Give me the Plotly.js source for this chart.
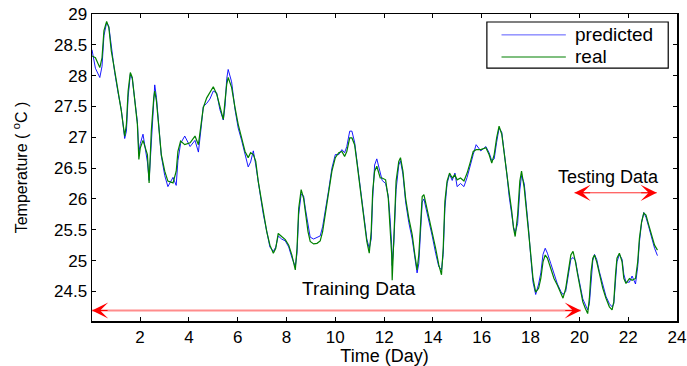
<!DOCTYPE html>
<html>
<head>
<meta charset="utf-8">
<script src="https://cdn.plot.ly/plotly-3.0.1.min.js"></script>
<style>html,body{margin:0;padding:0;background:#fff;}#chart{width:687px;height:366px;}</style>
</head>
<body>
<div id="chart"></div>
<script>
var days = [0.03,0.17,0.35,0.44,0.52,0.63,0.72,0.82,0.96,1.10,1.23,1.37,1.44,1.51,1.60,1.68,1.78,1.89,1.95,2.01,2.12,2.30,2.37,2.46,2.56,2.60,2.67,2.78,2.87,3.01,3.14,3.35,3.48,3.55,3.66,3.83,4.05,4.25,4.39,4.50,4.59,4.73,4.86,5.00,5.14,5.27,5.41,5.48,5.55,5.61,5.75,5.89,6.02,6.16,6.30,6.43,6.53,6.64,6.74,6.84,6.95,7.05,7.19,7.32,7.46,7.56,7.66,7.80,7.95,8.09,8.22,8.36,8.43,8.50,8.60,8.70,8.77,8.88,8.97,9.11,9.25,9.38,9.48,9.59,9.73,9.86,10.00,10.14,10.27,10.38,10.47,10.59,10.68,10.79,10.88,11.02,11.16,11.29,11.39,11.47,11.53,11.61,11.70,11.84,11.92,12.06,12.17,12.24,12.31,12.33,12.40,12.49,12.60,12.67,12.77,12.88,13.01,13.15,13.26,13.35,13.42,13.49,13.56,13.63,13.72,13.83,13.97,14.11,14.24,14.35,14.42,14.49,14.58,14.68,14.79,14.90,14.99,15.13,15.27,15.40,15.54,15.65,15.77,15.96,16.17,16.30,16.41,16.51,16.61,16.71,16.82,16.92,17.03,17.12,17.23,17.30,17.37,17.47,17.56,17.63,17.74,17.83,17.92,18.01,18.10,18.21,18.33,18.42,18.51,18.60,18.69,18.83,18.96,19.10,19.24,19.33,19.44,19.55,19.65,19.74,19.84,19.93,20.03,20.14,20.25,20.34,20.41,20.48,20.55,20.62,20.71,20.82,20.96,21.09,21.23,21.34,21.41,21.48,21.54,21.64,21.75,21.82,21.91,22.05,22.16,22.30,22.39,22.46,22.55,22.64,22.73,22.84,22.95,23.08,23.20];

var real = [28.32,28.29,28.13,28.29,28.73,28.88,28.78,28.40,28.08,27.75,27.43,27.02,27.21,27.75,28.05,27.97,27.64,27.21,26.64,26.83,26.95,26.72,26.26,27.10,27.64,27.75,27.59,27.10,26.72,26.45,26.29,26.26,26.45,26.77,26.94,26.88,26.91,27.02,26.88,27.21,27.48,27.64,27.73,27.82,27.70,27.48,27.29,27.59,27.86,27.97,27.81,27.48,27.21,26.99,26.77,26.67,26.75,26.72,26.61,26.29,26.01,25.80,25.47,25.25,25.12,25.20,25.44,25.39,25.34,25.25,25.09,24.85,25.20,25.85,26.15,26.01,25.80,25.47,25.31,25.27,25.28,25.32,25.47,25.74,26.12,26.45,26.67,26.75,26.77,26.69,26.77,26.99,26.99,26.88,26.61,26.18,25.74,25.31,25.12,25.47,26.12,26.45,26.53,26.34,26.34,26.31,26.01,25.63,25.09,24.68,25.47,26.29,26.61,26.67,26.45,26.01,25.69,25.42,25.09,24.85,25.09,25.69,26.04,26.07,25.91,25.74,25.47,25.20,24.93,24.77,25.20,25.96,26.29,26.42,26.34,26.39,26.31,26.34,26.29,26.42,26.61,26.77,26.80,26.80,26.83,26.72,26.58,26.72,26.99,27.18,27.05,26.72,26.45,26.12,25.80,25.53,25.39,25.74,26.29,26.45,26.18,25.85,25.47,25.09,24.71,24.49,24.55,24.71,24.98,25.09,25.04,24.87,24.71,24.60,24.47,24.39,24.55,24.87,25.09,25.15,24.98,24.77,24.55,24.33,24.22,24.14,24.39,24.82,25.04,25.09,24.98,24.77,24.55,24.39,24.25,24.20,24.33,24.77,25.04,25.12,24.98,24.71,24.63,24.71,24.68,24.71,24.98,25.36,25.63,25.77,25.74,25.58,25.42,25.25,25.17];

var predicted = [28.42,28.12,27.97,28.15,28.65,28.86,28.80,28.45,28.05,27.72,27.45,26.98,27.10,27.65,28.02,27.95,27.60,27.25,26.75,26.90,27.05,26.60,26.30,26.95,27.60,27.85,27.65,27.15,26.70,26.38,26.20,26.35,26.22,26.62,26.90,27.02,26.85,26.95,26.76,27.15,27.50,27.55,27.62,27.75,27.72,27.45,27.28,27.50,27.95,28.10,27.90,27.45,27.15,26.95,26.72,26.52,26.60,26.78,26.55,26.25,26.00,25.75,25.45,25.22,25.15,25.22,25.40,25.35,25.32,25.22,25.05,24.90,25.12,25.75,26.08,26.05,25.85,25.55,25.38,25.35,25.38,25.40,25.55,25.80,26.15,26.50,26.72,26.72,26.80,26.75,26.85,27.10,27.10,26.92,26.65,26.20,25.75,25.35,25.20,25.35,26.00,26.55,26.65,26.45,26.30,26.25,26.05,25.70,25.25,24.92,25.30,26.15,26.55,26.62,26.40,25.95,25.62,25.35,25.00,24.80,24.95,25.55,25.95,26.00,25.85,25.65,25.40,25.12,24.90,24.85,25.10,25.85,26.25,26.40,26.30,26.42,26.20,26.25,26.20,26.35,26.58,26.72,26.88,26.78,26.85,26.75,26.62,26.65,26.92,27.15,27.08,26.78,26.40,26.05,25.75,25.55,25.45,25.60,26.15,26.38,26.25,25.90,25.50,25.05,24.65,24.45,24.62,24.80,25.10,25.20,25.12,24.95,24.78,24.62,24.50,24.45,24.50,24.80,25.02,25.05,25.00,24.80,24.60,24.38,24.28,24.20,24.30,24.70,25.00,25.10,25.02,24.82,24.60,24.42,24.30,24.25,24.30,24.65,24.98,25.10,25.02,24.78,24.65,24.65,24.75,24.62,24.90,25.30,25.62,25.78,25.70,25.55,25.38,25.20,25.08];

var xTicks = [2,4,6,8,10,12,14,16,18,20,22,24];
var yTicks = [24.5,25,25.5,26,26.5,27,27.5,28,28.5,29];
var yTickLabels = ['24.5','25','25.5','26','26.5','27','27.5','28','28.5','29'];
var seriesNames = ['predicted','real'];
var seriesColors = ['#0000ff', '#008000'];
var legendColors = ['#5a5aff', '#55aa55'];
var trainingLabel = 'Training Data';
var testingLabel = 'Testing Data';
var trainSpan = [0.03, 20.06];
var testSpan = [19.8, 23.17];

var font = 'Liberation Sans, Arial, sans-serif';

var traces = [
  {x: days, y: predicted, type: 'scatter', mode: 'lines', name: seriesNames[0],
   line: {color: seriesColors[0], width: 0.9}},
  {x: days, y: real, type: 'scatter', mode: 'lines', name: seriesNames[1],
   line: {color: seriesColors[1], width: 1.2}}
];

function headAnn(xTip, xTail, y) {
  return {x: xTip, y: y, ax: xTail, ay: y, xref: 'x', yref: 'y', axref: 'x', ayref: 'y',
    text: '', showarrow: true, arrowhead: 3, arrowsize: 2.7, arrowwidth: 1, arrowcolor: '#ff0000'};
}

// custom legend box (MATLAB style, long line samples)
var legBox = {x0: 0.675, x1: 0.985, y0: 0.824, y1: 0.974};
var legRows = [0.932, 0.860];
var legShapes = [
  {type: 'rect', xref: 'paper', yref: 'paper', x0: legBox.x0, x1: legBox.x1, y0: legBox.y0, y1: legBox.y1,
   line: {color: '#000000', width: 1.2}, fillcolor: '#ffffff', layer: 'above'}
];
var legAnns = [];
for (var i = 0; i < seriesNames.length; i++) {
  legShapes.push({type: 'line', xref: 'paper', yref: 'paper', x0: 0.700, x1: 0.810,
    y0: legRows[i], y1: legRows[i], line: {color: legendColors[i], width: i === 0 ? 1 : 1.5}, layer: 'above'});
  legAnns.push({xref: 'paper', yref: 'paper', x: 0.822, y: legRows[i], xanchor: 'left', yanchor: 'middle',
    text: seriesNames[i], showarrow: false, font: {family: font, size: 19, color: '#000000'}});
}

var layout = {
  width: 687, height: 366,
  margin: {l: 92, r: 10, t: 14, b: 45},
  paper_bgcolor: '#ffffff', plot_bgcolor: '#ffffff',
  font: {family: font, size: 17, color: '#000000'},
  showlegend: false,
  xaxis: {range: [0.03, 24], tickvals: xTicks, ticks: 'inside', ticklen: 4,
    tickcolor: '#000000', showline: true, linecolor: '#000000', linewidth: 1.5,
    mirror: 'ticks', showgrid: false, zeroline: false,
    tickfont: {family: font, size: 17},
    title: {text: 'Time (Day)', font: {family: font, size: 18}, standoff: 3}},
  yaxis: {range: [24.02, 29], tickvals: yTicks, ticktext: yTickLabels, ticks: 'inside', ticklen: 4,
    tickcolor: '#000000', showline: true, linecolor: '#000000', linewidth: 1.5,
    mirror: 'ticks', showgrid: false, zeroline: false,
    tickfont: {family: font, size: 17},
    title: {text: 'Temperature ( <sup>o</sup>C )', font: {family: font, size: 16}, standoff: 22}},
  shapes: [
    {type: 'line', xref: 'x', yref: 'y', x0: trainSpan[0], x1: trainSpan[1], y0: 24.19, y1: 24.19,
     line: {color: '#ff8c8c', width: 2}, layer: 'above'},
    {type: 'line', xref: 'x', yref: 'y', x0: testSpan[0], x1: testSpan[1], y0: 26.1, y1: 26.1,
     line: {color: '#ff3030', width: 1}, layer: 'above'}
  ].concat(legShapes),
  annotations: [
    headAnn(trainSpan[0], trainSpan[0] + 0.7, 24.19),
    headAnn(trainSpan[1], trainSpan[1] - 0.7, 24.19),
    headAnn(testSpan[0], testSpan[0] + 0.7, 26.1),
    headAnn(testSpan[1], testSpan[1] - 0.7, 26.1),
    {x: 10.97, y: 24.54, xref: 'x', yref: 'y', text: trainingLabel, showarrow: false,
     font: {family: font, size: 19, color: '#000000'}},
    {x: 21.2, y: 26.36, xref: 'x', yref: 'y', text: testingLabel, showarrow: false,
     font: {family: font, size: 18, color: '#000000'}}
  ].concat(legAnns)
};

Plotly.newPlot('chart', traces, layout, {displayModeBar: false, staticPlot: true});
</script>
</body>
</html>
